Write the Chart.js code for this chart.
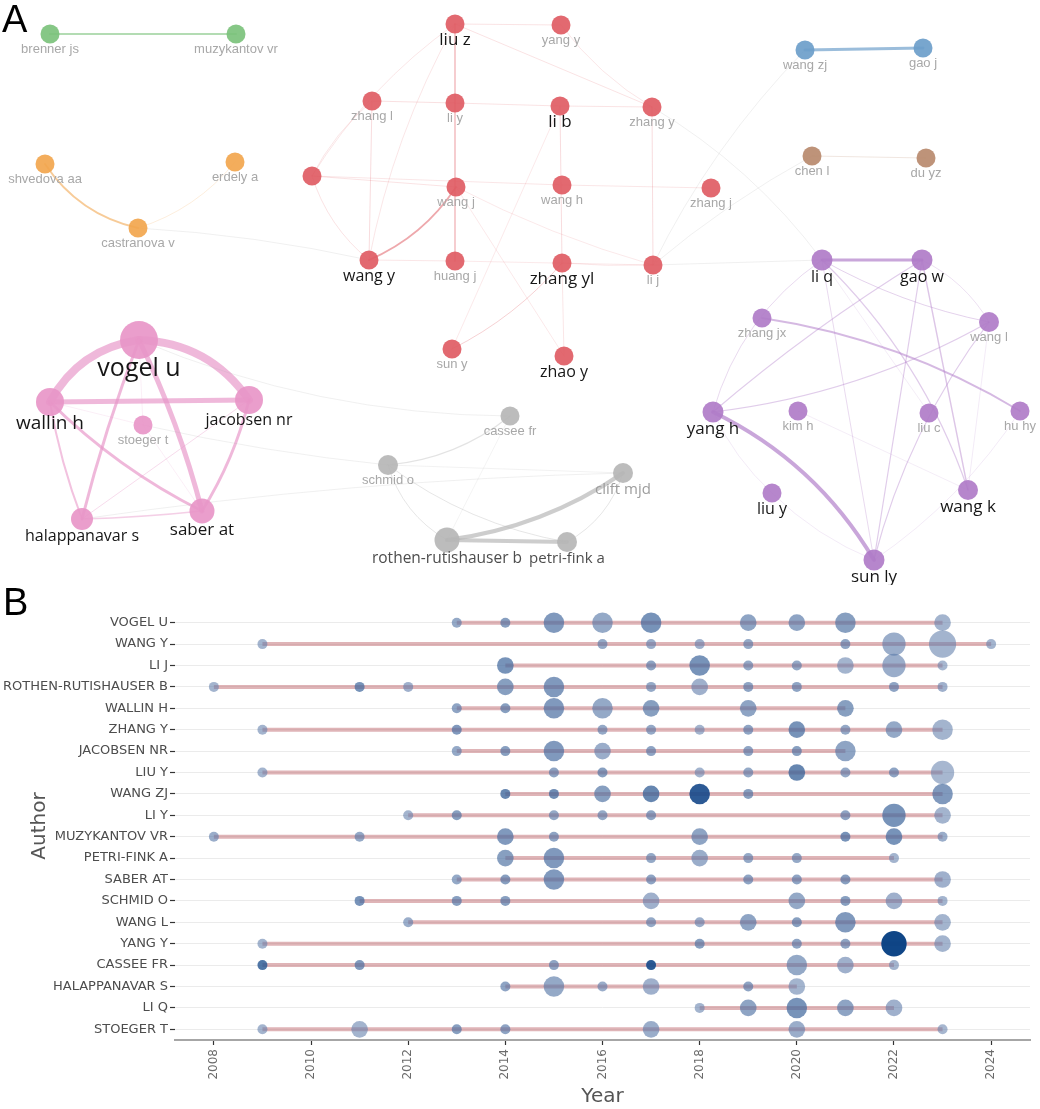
<!DOCTYPE html>
<html lang="en">
<head>
<meta charset="UTF-8">
<title>Co-authorship network and author production over time</title>
<script src="https://cdn.jsdelivr.net/npm/chart.js@4"></script>
<style>
body { margin: 0; background: #fff; font-family: 'Liberation Sans', Arial, sans-serif; }
.wrap { position: relative; width: 1040px; height: 1109px; overflow: hidden; }
#netBox { position: absolute; left: 0; top: 0; width: 1040px; height: 585px; }
#timeBox { position: absolute; left: 0; top: 585px; width: 1040px; height: 524px; }
.tag { position: absolute; font-size: 38px; line-height: 38px; color: #000; }
</style>
</head>
<body>
<div class="wrap">
  <div id="netBox"><canvas id="net"></canvas></div>
  <div id="timeBox"><canvas id="timeline"></canvas></div>
  <div class="tag" style="left:2px;top:0px">A</div>
  <div class="tag" style="left:3px;top:583px">B</div>
</div>
<script>
// ---- panel A: co-authorship network (layout coords, weight) ----
const nodes = [
  ['brenner js', 50, 34, 'green', 5],
  ['muzykantov vr', 236, 34, 'green', 5],
  ['shvedova aa', 45, 164, 'orange', 5],
  ['erdely a', 235, 162, 'orange', 5],
  ['castranova v', 138, 228, 'orange', 5],
  ['liu z', 455, 24, 'red', 5],
  ['yang y', 561, 25, 'red', 5],
  ['zhang l', 372, 101, 'red', 5],
  ['li y', 455, 103, 'red', 5],
  ['li b', 560, 106, 'red', 5],
  ['zhang y', 652, 107, 'red', 5],
  ['', 312, 176, 'red', 5],
  ['wang j', 456, 187, 'red', 5],
  ['wang h', 562, 185, 'red', 5],
  ['zhang j', 711, 188, 'red', 5],
  ['wang y', 369, 260, 'red', 5],
  ['huang j', 455, 261, 'red', 5],
  ['zhang yl', 562, 263, 'red', 5],
  ['li j', 653, 265, 'red', 5],
  ['sun y', 452, 349, 'red', 5],
  ['zhao y', 564, 356, 'red', 5],
  ['wang zj', 805, 50, 'blue', 5],
  ['gao j', 923, 48, 'blue', 5],
  ['chen l', 812, 156, 'brown', 5],
  ['du yz', 926, 158, 'brown', 5],
  ['li q', 822, 260, 'purple', 6],
  ['gao w', 922, 260, 'purple', 6],
  ['zhang jx', 762, 318, 'purple', 5],
  ['wang l', 989, 322, 'purple', 5.5],
  ['yang h', 713, 412, 'purple', 6],
  ['kim h', 798, 411, 'purple', 5],
  ['liu c', 929, 413, 'purple', 5],
  ['hu hy', 1020, 411, 'purple', 5],
  ['liu y', 772, 493, 'purple', 5],
  ['wang k', 968, 490, 'purple', 5.5],
  ['sun ly', 874, 560, 'purple', 6],
  ['vogel u', 139, 340, 'pink', 14.5],
  ['wallin h', 50, 402, 'pink', 9.5],
  ['jacobsen nr', 249, 400, 'pink', 9.5],
  ['stoeger t', 143, 425, 'pink', 5],
  ['halappanavar s', 82, 519, 'pink', 6.5],
  ['saber at', 202, 511, 'pink', 8],
  ['cassee fr', 510, 416, 'gray', 5],
  ['schmid o', 388, 465, 'gray', 5.5],
  ['clift mjd', 623, 473, 'gray', 5.5],
  ['rothen-rutishauser b', 447, 540, 'gray', 8],
  ['petri-fink a', 567, 542, 'gray', 5.5]
];

// [from, to, link strength, bend]
const links = [
  ['brenner js', 'muzykantov vr', 2, 0],
  ['shvedova aa', 'castranova v', 2, 0.2],
  ['erdely a', 'castranova v', 0.6, -0.15],
  ['castranova v', 'wang y', 0.5, -0.04],
  ['wang zj', 'gao j', 3, 0],
  ['wang zj', 'li j', 0.4, 0.08],
  ['chen l', 'du yz', 0.7, 0],
  ['chen l', 'li j', 0.4, 0.05],
  ['liu z', 'huang j', 1.4, 0],
  ['liu z', 'yang y', 0.5, 0],
  ['liu z', 'zhang y', 0.5, 0],
  ['liu z', '', 0.4, 0.1],
  ['liu z', 'wang y', 0.4, 0.08],
  ['zhang l', 'li y', 0.6, 0],
  ['li y', 'li b', 0.5, 0],
  ['li b', 'zhang y', 0.5, 0],
  ['zhang l', 'wang y', 0.7, 0],
  ['li b', 'zhang yl', 0.7, 0],
  ['zhang y', 'li j', 0.7, 0],
  ['wang y', 'wang j', 1.8, 0.15],
  ['wang y', 'huang j', 0.4, 0],
  ['', 'wang y', 0.5, 0.15],
  ['', 'zhang l', 0.4, -0.1],
  ['', 'wang j', 0.5, 0],
  ['', 'wang h', 0.4, 0],
  ['wang h', 'zhang j', 0.4, 0],
  ['yang y', 'zhang y', 0.4, 0.1],
  ['sun y', 'zhang yl', 0.9, 0.1],
  ['sun y', 'li b', 0.3, 0],
  ['zhao y', 'zhang yl', 0.4, 0],
  ['zhao y', 'wang j', 0.3, 0],
  ['huang j', 'li j', 0.3, 0],
  ['zhang yl', 'li j', 0.3, 0.03],
  ['wang j', 'li j', 0.3, 0.05],
  ['li j', 'li q', 0.4, 0],
  ['zhang y', 'li q', 0.4, -0.1],
  ['vogel u', 'wallin h', 8, 0.25],
  ['vogel u', 'jacobsen nr', 8, -0.25],
  ['wallin h', 'jacobsen nr', 5, 0],
  ['vogel u', 'saber at', 5, -0.05],
  ['vogel u', 'halappanavar s', 3, 0.03],
  ['wallin h', 'halappanavar s', 2, 0.05],
  ['wallin h', 'saber at', 3, 0.08],
  ['jacobsen nr', 'saber at', 3, -0.08],
  ['jacobsen nr', 'halappanavar s', 1, 0],
  ['halappanavar s', 'saber at', 1.5, 0.02],
  ['stoeger t', 'vogel u', 0.4, 0],
  ['stoeger t', 'wallin h', 0.4, 0],
  ['stoeger t', 'saber at', 0.4, 0],
  ['stoeger t', 'schmid o', 0.5, 0.03],
  ['vogel u', 'cassee fr', 0.4, 0.1],
  ['halappanavar s', 'clift mjd', 0.3, -0.03],
  ['rothen-rutishauser b', 'clift mjd', 4, 0.12],
  ['rothen-rutishauser b', 'petri-fink a', 4, 0],
  ['schmid o', 'cassee fr', 1.2, 0.15],
  ['schmid o', 'rothen-rutishauser b', 1, 0.2],
  ['schmid o', 'petri-fink a', 1, 0.12],
  ['petri-fink a', 'clift mjd', 1, 0.2],
  ['schmid o', 'clift mjd', 0.5, 0],
  ['cassee fr', 'rothen-rutishauser b', 0.4, 0],
  ['li q', 'gao w', 3, 0],
  ['li q', 'wang l', 1, 0.08],
  ['li q', 'wang k', 1.2, -0.12],
  ['li q', 'yang h', 0.9, 0.18],
  ['gao w', 'yang h', 1.2, 0.04],
  ['gao w', 'sun ly', 1.2, 0],
  ['li q', 'sun ly', 0.9, 0],
  ['gao w', 'wang k', 1.4, 0],
  ['gao w', 'wang l', 0.8, -0.15],
  ['wang l', 'sun ly', 1.2, 0.1],
  ['zhang jx', 'hu hy', 1.8, -0.1],
  ['yang h', 'wang l', 1.2, 0.1],
  ['yang h', 'sun ly', 4, -0.15],
  ['wang l', 'wang k', 0.4, 0],
  ['hu hy', 'sun ly', 0.4, -0.1],
  ['liu y', 'sun ly', 0.4, 0.1],
  ['yang h', 'liu y', 0.4, 0.1],
  ['kim h', 'wang k', 0.3, 0],
  ['li q', 'liu c', 0.3, 0]
];

const strongLabels = {
  'liu z': 17, 'li b': 17, 'wang y': 16, 'zhang yl': 17, 'zhao y': 16,
  'li q': 16, 'gao w': 16, 'yang h': 17, 'liu y': 16, 'wang k': 17, 'sun ly': 17,
  'vogel u': 25, 'wallin h': 19, 'jacobsen nr': 16, 'halappanavar s': 16, 'saber at': 17,
  'rothen-rutishauser b': 15.5, 'petri-fink a': 15, 'clift mjd': 15
};

// ---- panel B: authors' production over time ----
const authors = ['VOGEL U', 'WANG Y', 'LI J', 'ROTHEN-RUTISHAUSER B', 'WALLIN H', 'ZHANG Y',
  'JACOBSEN NR', 'LIU Y', 'WANG ZJ', 'LI Y', 'MUZYKANTOV VR', 'PETRI-FINK A', 'SABER AT',
  'SCHMID O', 'WANG L', 'YANG Y', 'CASSEE FR', 'HALAPPANAVAR S', 'LI Q', 'STOEGER T'];

const pubYears = [
  [2013, 2014, 2015, 2016, 2017, 2019, 2020, 2021, 2023],
  [2009, 2016, 2017, 2018, 2019, 2021, 2022, 2023, 2024],
  [2014, 2017, 2018, 2019, 2020, 2021, 2022, 2023],
  [2008, 2011, 2012, 2014, 2015, 2017, 2018, 2019, 2020, 2022, 2023],
  [2013, 2014, 2015, 2016, 2017, 2019, 2021],
  [2009, 2013, 2016, 2017, 2018, 2019, 2020, 2021, 2022, 2023],
  [2013, 2014, 2015, 2016, 2017, 2019, 2020, 2021],
  [2009, 2015, 2016, 2018, 2019, 2020, 2021, 2022, 2023],
  [2014, 2015, 2016, 2017, 2018, 2019, 2023],
  [2012, 2013, 2015, 2016, 2017, 2021, 2022, 2023],
  [2008, 2011, 2014, 2015, 2018, 2021, 2022, 2023],
  [2014, 2015, 2017, 2018, 2019, 2020, 2022],
  [2013, 2014, 2015, 2017, 2019, 2020, 2021, 2023],
  [2011, 2013, 2014, 2017, 2020, 2021, 2022, 2023],
  [2012, 2017, 2018, 2019, 2020, 2021, 2023],
  [2009, 2018, 2020, 2021, 2022, 2023],
  [2009, 2011, 2015, 2017, 2020, 2021, 2022],
  [2014, 2015, 2016, 2017, 2019, 2020],
  [2018, 2019, 2020, 2021, 2022],
  [2009, 2011, 2013, 2014, 2017, 2020, 2023]
];

// number of articles
const pubFreq = [
  [1, 1, 3, 3, 3, 2, 2, 3, 2],
  [1, 1, 1, 1, 1, 1, 4, 6, 1],
  [2, 1, 3, 1, 1, 2, 4, 1],
  [1, 1, 1, 2, 3, 1, 2, 1, 1, 1, 1],
  [1, 1, 3, 3, 2, 2, 2],
  [1, 1, 1, 1, 1, 1, 2, 1, 2, 3],
  [1, 1, 3, 2, 1, 1, 1, 3],
  [1, 1, 1, 1, 1, 2, 1, 1, 4],
  [1, 1, 2, 2, 3, 1, 3],
  [1, 1, 1, 1, 1, 1, 4, 2],
  [1, 1, 2, 1, 2, 1, 2, 1],
  [2, 3, 1, 2, 1, 1, 1],
  [1, 1, 3, 1, 1, 1, 1, 2],
  [1, 1, 1, 2, 2, 1, 2, 1],
  [1, 1, 1, 2, 1, 3, 2],
  [1, 1, 1, 1, 5, 2],
  [1, 1, 1, 1, 3, 2, 1],
  [1, 3, 1, 2, 1, 2],
  [1, 2, 3, 2, 2],
  [1, 2, 1, 1, 2, 2, 1]
];

// citations per year, relative (0 = light, 1 = darkest)
const pubTC = [
  [0.35, 0.45, 0.5, 0.35, 0.55, 0.4, 0.4, 0.45, 0.2],
  [0.2, 0.35, 0.3, 0.25, 0.35, 0.4, 0.3, 0.2, 0.2],
  [0.55, 0.4, 0.55, 0.35, 0.35, 0.2, 0.3, 0.15],
  [0.2, 0.55, 0.25, 0.45, 0.5, 0.35, 0.25, 0.4, 0.4, 0.4, 0.25],
  [0.4, 0.45, 0.5, 0.35, 0.45, 0.4, 0.45],
  [0.2, 0.5, 0.35, 0.35, 0.2, 0.4, 0.55, 0.35, 0.35, 0.2],
  [0.35, 0.45, 0.5, 0.3, 0.4, 0.4, 0.45, 0.4],
  [0.2, 0.4, 0.45, 0.2, 0.35, 0.65, 0.35, 0.4, 0.15],
  [0.65, 0.6, 0.45, 0.65, 0.9, 0.45, 0.5],
  [0.2, 0.45, 0.35, 0.35, 0.4, 0.4, 0.55, 0.2],
  [0.3, 0.35, 0.5, 0.4, 0.4, 0.55, 0.55, 0.3],
  [0.45, 0.5, 0.35, 0.3, 0.35, 0.35, 0.2],
  [0.35, 0.45, 0.5, 0.4, 0.4, 0.4, 0.45, 0.25],
  [0.55, 0.45, 0.45, 0.25, 0.35, 0.45, 0.25, 0.2],
  [0.3, 0.35, 0.3, 0.4, 0.45, 0.5, 0.2],
  [0.2, 0.45, 0.4, 0.4, 1.0, 0.2],
  [0.75, 0.5, 0.4, 0.9, 0.35, 0.25, 0.2],
  [0.4, 0.35, 0.3, 0.25, 0.4, 0.2],
  [0.2, 0.4, 0.55, 0.4, 0.25],
  [0.2, 0.2, 0.45, 0.4, 0.3, 0.3, 0.15]
];

const yearTicks = [2008, 2010, 2012, 2014, 2016, 2018, 2020, 2022, 2024];

// ---------------- panel A ----------------
const groupRGB = {
  green: [124, 194, 124], orange: [242, 166, 78], red: [224, 92, 100], blue: [108, 158, 202],
  brown: [184, 138, 110], purple: [176, 124, 200], pink: [232, 150, 200], gray: [182, 182, 182]
};
const byName = {};
nodes.forEach(n => { byName[n[0]] = n; });
const rgba = (c, a) => `rgba(${c[0]},${c[1]},${c[2]},${a})`;

const edgePlugin = {
  id: 'edges',
  beforeDatasetsDraw(chart) {
    const { ctx, scales: { x, y } } = chart;
    ctx.save();
    ctx.lineCap = 'round';
    links.forEach(([a, b, w, bend]) => {
      const na = byName[a], nb = byName[b];
      const x1 = x.getPixelForValue(na[1]), y1 = y.getPixelForValue(na[2]);
      const x2 = x.getPixelForValue(nb[1]), y2 = y.getPixelForValue(nb[2]);
      const dx = x2 - x1, dy = y2 - y1;
      const cx = (x1 + x2) / 2 - dy * bend, cy = (y1 + y2) / 2 + dx * bend;
      if (na[3] === nb[3]) {
        ctx.strokeStyle = rgba(groupRGB[na[3]], Math.min(0.68, 0.1 + 0.24 * w));
      } else {
        ctx.strokeStyle = 'rgba(170,170,170,0.22)';
      }
      ctx.lineWidth = Math.max(0.8, w);
      ctx.beginPath();
      ctx.moveTo(x1, y1);
      ctx.quadraticCurveTo(cx, cy, x2, y2);
      ctx.stroke();
    });
    ctx.restore();
  }
};

const labelPlugin = {
  id: 'nodeLabels',
  afterDatasetsDraw(chart) {
    const { ctx, scales: { x, y } } = chart;
    ctx.save();
    ctx.textAlign = 'center';
    ctx.textBaseline = 'middle';
    nodes.forEach(([name, nx, ny, g, w]) => {
      if (!name) return;
      const r = 4.5 + w;
      const strong = strongLabels[name];
      const fs = strong || 13;
      let color = '#a8a8a8';
      if (strong) color = '#161616';
      if (name === 'rothen-rutishauser b' || name === 'petri-fink a') color = '#4d4d4d';
      if (name === 'clift mjd') color = '#9d9d9d';
      ctx.font = strong ? `${fs}px 'Open Sans', sans-serif` : `${fs}px 'Liberation Sans', Arial, sans-serif`;
      ctx.fillStyle = color;
      ctx.fillText(name, x.getPixelForValue(nx), y.getPixelForValue(ny) + r + fs * 0.35 + 1);
    });
    ctx.restore();
  }
};

new Chart(document.getElementById('net'), {
  type: 'bubble',
  data: {
    datasets: [{
      data: nodes.map(n => ({ x: n[1], y: n[2], r: 4.5 + n[4] })),
      backgroundColor: nodes.map(n => rgba(groupRGB[n[3]], 0.92)),
      borderWidth: 0,
      hoverBorderWidth: 0,
      clip: false
    }]
  },
  options: {
    responsive: true,
    maintainAspectRatio: false,
    animation: false,
    layout: { padding: 0, autoPadding: false },
    plugins: { legend: { display: false }, tooltip: { enabled: false } },
    scales: {
      x: { type: 'linear', min: 0, max: 1040, display: false },
      y: { type: 'linear', min: 0, max: 585, reverse: true, display: false }
    }
  },
  plugins: [edgePlugin, labelPlugin]
});

// ---------------- panel B ----------------
const lightRGB = [108, 134, 176], darkRGB = [8, 64, 131];
function bubbleColor(t) {
  const k = Math.pow(t, 1.5);
  const c = lightRGB.map((v, i) => Math.round(v + (darkRGB[i] - v) * k));
  return `rgba(${c[0]},${c[1]},${c[2]},${0.55 + 0.42 * k})`;
}

const bubblePoints = [];
authors.forEach((a, i) => {
  pubYears[i].forEach((yr, j) => {
    bubblePoints.push({ x: yr, y: i, r: 5 + 4.8 * Math.log(pubFreq[i][j]), tc: pubTC[i][j] });
  });
});

const segmentSets = authors.map((a, i) => ({
  type: 'line',
  label: a,
  data: [{ x: Math.min(...pubYears[i]), y: i }, { x: Math.max(...pubYears[i]), y: i }],
  borderColor: 'rgba(196,118,124,0.55)',
  borderWidth: 4,
  pointRadius: 0,
  order: 2
}));

new Chart(document.getElementById('timeline'), {
  type: 'bubble',
  data: {
    datasets: [{
      type: 'bubble',
      label: 'articles',
      data: bubblePoints,
      backgroundColor: ctx => bubbleColor(ctx.raw ? ctx.raw.tc : 0),
      borderWidth: 0,
      order: 1
    }, ...segmentSets]
  },
  options: {
    responsive: true,
    maintainAspectRatio: false,
    animation: false,
    layout: { padding: { top: 27, right: 10, left: 0, bottom: 0 }, autoPadding: false },
    plugins: { legend: { display: false }, tooltip: { enabled: false } },
    scales: {
      x: {
        type: 'linear',
        min: 2007.2,
        max: 2024.8,
        afterBuildTicks: s => { s.ticks = yearTicks.map(v => ({ value: v })); },
        afterFit: s => { s.height = 69; },
        ticks: {
          autoSkip: false, minRotation: 90, maxRotation: 90, padding: 4,
          color: '#6b6b6b', font: { family: 'DejaVu Sans', size: 12 },
          callback: v => String(v)
        },
        grid: { drawOnChartArea: false, tickLength: 5, tickColor: '#333', tickWidth: 1.2 },
        border: { display: true, color: '#a6a6a6', width: 2 },
        title: {
          display: true, text: 'Year', color: '#555',
          font: { family: 'DejaVu Sans', size: 20 }, padding: { top: 0, bottom: 0 }
        }
      },
      y: {
        type: 'linear',
        min: -0.5,
        max: 19.5,
        reverse: true,
        afterBuildTicks: s => { s.ticks = authors.map((a, i) => ({ value: i })); },
        afterFit: s => { s.width = 175; },
        ticks: {
          autoSkip: false, padding: 2, color: '#4d4d4d',
          font: { family: 'DejaVu Sans', size: 13 },
          callback: v => authors[v]
        },
        grid: { color: '#ebebeb', lineWidth: 1, tickLength: 5, tickColor: '#333', tickWidth: 1.2 },
        border: { display: false },
        title: {
          display: true, text: 'Author', color: '#555',
          font: { family: 'DejaVu Sans', size: 20 }, padding: { top: 28, bottom: 0 }
        }
      }
    }
  }
});
</script>
</body>
</html>
